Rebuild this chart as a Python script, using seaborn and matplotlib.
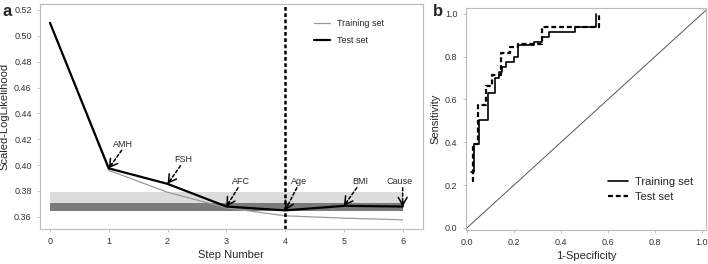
import pandas as pd
import matplotlib.pyplot as plt
import seaborn as sns

# panel a: scaled log-likelihood per step
steps = [0, 1, 2, 3, 4, 5, 6]
test_ll = [0.510, 0.3975, 0.3855, 0.368, 0.365, 0.3685, 0.368]
train_ll = [0.510, 0.396, 0.379, 0.367, 0.3608, 0.359, 0.3577]
band_light = [0.3646, 0.3795]
band_dark = [0.3646, 0.3706]
band_steps = [0, 6]
var_names = ["AMH", "FSH", "AFC", "Age", "BMI", "Cause"]
best_step = 4

# panel b: ROC curves (step corners)
fpr_train = [0.015, 0.03, 0.05, 0.09, 0.12, 0.135, 0.15, 0.165, 0.20, 0.215, 0.285, 0.32, 0.35, 0.46, 0.55]
tpr_train = [0.26, 0.39, 0.505, 0.63, 0.70, 0.73, 0.75, 0.775, 0.80, 0.855, 0.87, 0.89, 0.915, 0.94, 1.0]
fpr_test = [0.02, 0.026, 0.045, 0.08, 0.105, 0.145, 0.185, 0.215, 0.32, 0.56]
tpr_test = [0.22, 0.39, 0.575, 0.665, 0.715, 0.815, 0.845, 0.86, 0.94, 1.0]

# label placement (data coords) for panel a
label_xy = [(1.25, 0.4125), (2.26, 0.4005), (3.25, 0.3835), (4.24, 0.3835), (5.27, 0.3835), (5.95, 0.3835)]
arrow_from = [(1.22, 0.4115), (2.22, 0.3995), (3.2, 0.3825), (4.2, 0.3825), (5.22, 0.3825), (6.0, 0.3825)]

sns.set_style("white")
plt.rcParams['font.family'] = ['Liberation Sans', 'DejaVu Sans']

fig = plt.figure(figsize=(7.08, 2.64), dpi=100)
ax1 = fig.add_axes([0.0565, 0.133, 0.5405, 0.852])
ax2 = fig.add_axes([0.658, 0.129, 0.339, 0.841])

spine_col = "#bbbbbb"
tick_col = "#333333"

# ---- panel a ----
ax1.fill_between(band_steps, band_light[0], band_light[1], color="#dcdcdc", lw=0)
ax1.fill_between(band_steps, band_dark[0], band_dark[1], color="#7a7a7a", lw=0)
ll_df = pd.DataFrame({"step": steps, "train": train_ll, "test": test_ll})
sns.lineplot(ax=ax1, data=ll_df, x="step", y="train", color="#9a9a9a", lw=0.9, label="Training set")
sns.lineplot(ax=ax1, data=ll_df, x="step", y="test", color="black", lw=1.6, label="Test set")
ax1.axvline(best_step, color="black", lw=1.8, ls=(0, (1.5, 1)))

for i, name in enumerate(var_names):
    px, py = steps[i + 1], test_ll[i + 1]
    tx, ty = label_xy[i]
    ax1.text(tx, ty, name, fontsize=6.5, ha="center", va="bottom")
    sx, sy = arrow_from[i]
    ax1.annotate("", xy=(px, py), xytext=(sx, sy),
                 arrowprops=dict(arrowstyle="-", ls=(0, (2, 1.5)), lw=1.1, color="black",
                                 shrinkA=0, shrinkB=0))
    hx = px + 0.25 * (sx - px)
    hy = py + 0.25 * (sy - py)
    ax1.annotate("", xy=(px, py), xytext=(hx, hy),
                 arrowprops=dict(arrowstyle="->,head_length=0.55,head_width=0.32", lw=1.1, color="black",
                                 shrinkA=0, shrinkB=0))

ax1.set_xlim(-0.17, 6.34)
ax1.set_ylim(0.3507, 0.5246)
ax1.set_xticks(steps)
ax1.set_yticks([0.36, 0.38, 0.40, 0.42, 0.44, 0.46, 0.48, 0.50, 0.52])
ax1.set_yticklabels(["0.36", "0.38", "0.40", "0.42", "0.44", "0.46", "0.48", "0.50", "0.52"])
ax1.set_xlabel("Step Number", fontsize=8, labelpad=3)
ax1.set_ylabel("Scaled-LogLikelihood", fontsize=8, labelpad=3)
ax1.legend(loc="upper right", bbox_to_anchor=(0.92, 0.97), frameon=False, fontsize=6.5,
           handlelength=1.7, handletextpad=0.8, labelspacing=0.9)

# ---- panel b ----
ax2.axline((0, 0), slope=1, color="#555555", lw=0.7)
sns.lineplot(ax=ax2, x=fpr_train, y=tpr_train, sort=False, estimator=None, drawstyle="steps-post",
             color="black", lw=1.2, label="Training set")
sns.lineplot(ax=ax2, x=fpr_test, y=tpr_test, sort=False, estimator=None, drawstyle="steps-post",
             color="black", lw=1.6, linestyle=(0, (2.2, 1.3)), label="Test set")
ax2.set_xlim(-0.005, 1.017)
ax2.set_ylim(-0.01, 1.028)
ax2.set_xticks([0, 0.2, 0.4, 0.6, 0.8, 1.0])
ax2.set_yticks([0, 0.2, 0.4, 0.6, 0.8, 1.0])
ax2.set_xticklabels(["0.0", "0.2", "0.4", "0.6", "0.8", "1.0"])
ax2.set_yticklabels(["0.0", "0.2", "0.4", "0.6", "0.8", "1.0"])
ax2.set_xlabel("1-Specificity", fontsize=8, labelpad=3)
ax2.set_ylabel("Sensitivity", fontsize=8, labelpad=3)
ax2.legend(loc="lower right", bbox_to_anchor=(0.99, 0.08), frameon=False, fontsize=8,
           handlelength=1.8, handletextpad=0.7, labelspacing=0.5)

for ax in (ax1, ax2):
    for sp in ax.spines.values():
        sp.set_color(spine_col)
        sp.set_linewidth(0.8)
    ax.tick_params(axis="both", which="both", labelsize=6.5, colors=tick_col, length=2.5, width=0.6,
                   direction="out", bottom=True, left=True, pad=3.5)
    ax.tick_params(axis="both", color=spine_col)

fig.text(0.004, 0.985, "a", fontsize=12, fontweight="bold", va="top")
fig.text(0.612, 0.985, "b", fontsize=12, fontweight="bold", va="top")

fig.savefig("out.png", dpi=100)
plt.close()
